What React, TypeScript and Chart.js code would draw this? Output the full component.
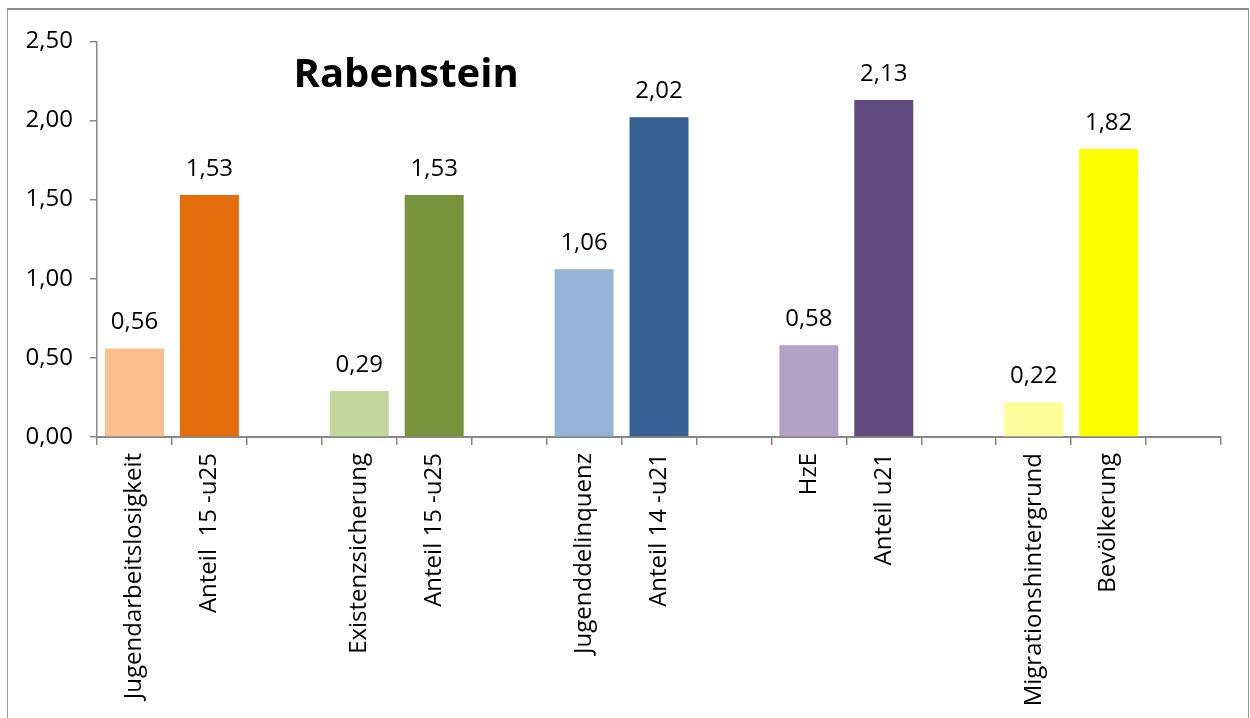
import React, { useEffect, useRef } from "react";
import { Chart, registerables } from "chart.js";

Chart.register(...registerables);

const TITLE = "Rabenstein";
const categories: string[] = [
  "Jugendarbeitslosigkeit",
  "Anteil  15 -u25",
  "",
  "Existenzsicherung",
  "Anteil 15 -u25",
  "",
  "Jugenddelinquenz",
  "Anteil 14 -u21",
  "",
  "HzE",
  "Anteil u21",
  "",
  "Migrationshintergrund",
  "Bevölkerung",
  "",
];
const values: (number | null)[] = [
  0.56, 1.53, null, 0.29, 1.53, null, 1.06, 2.02, null, 0.58, 2.13, null, 0.22, 1.82, null,
];
const barColors: string[] = [
  "#FAC090", "#E46C0A", "#FFFFFF",
  "#C3D69B", "#77933C", "#FFFFFF",
  "#95B3D7", "#376092", "#FFFFFF",
  "#B3A2C7", "#604A7B", "#FFFFFF",
  "#FDFD99", "#FFFF00", "#FFFFFF",
];
const yTicks: number[] = [0, 0.5, 1, 1.5, 2, 2.5];

const FONT = "'Open Sans', 'Noto Sans', sans-serif";
const fmt = (v: number) => v.toFixed(2).replace(".", ",");

const overlayPlugin = {
  id: "overlay",
  afterDatasetsDraw(chart: any) {
    const { ctx, chartArea } = chart;
    const meta = chart.getDatasetMeta(0);
    ctx.save();
    ctx.fillStyle = "#000";
    ctx.font = `24px ${FONT}`;
    ctx.textAlign = "center";
    ctx.textBaseline = "alphabetic";
    meta.data.forEach((bar: any, i: number) => {
      const v = values[i];
      if (v === null || v === undefined) return;
      ctx.fillText(fmt(v), bar.x, bar.y - 19);
    });
    ctx.font = `bold 40px ${FONT}`;
    ctx.fillText(
      TITLE,
      chartArea.left + 0.275 * (chartArea.right - chartArea.left),
      chartArea.top + 46
    );
    ctx.restore();
  },
};

export default function App() {
  const canvasRef = useRef<HTMLCanvasElement | null>(null);

  useEffect(() => {
    if (!canvasRef.current) return;
    const chart = new Chart(canvasRef.current, {
      type: "bar",
      data: {
        labels: categories,
        datasets: [
          {
            data: values as any,
            backgroundColor: barColors,
            borderWidth: 0,
            categoryPercentage: 1,
            barPercentage: 0.787,
          },
        ],
      },
      options: {
        animation: false,
        responsive: false,
        maintainAspectRatio: false,
        layout: { padding: { top: 27, right: 27, left: 0, bottom: 0 } },
        plugins: {
          legend: { display: false },
          tooltip: { enabled: false },
          title: { display: false },
        },
        scales: {
          x: {
            offset: true,
            afterFit: (scale: any) => {
              scale.height = 283;
            },
            grid: {
              display: true,
              drawOnChartArea: false,
              drawTicks: true,
              tickLength: 8,
              offset: true,
              color: "#888888",
              lineWidth: 1.5,
            },
            border: { display: true, color: "#888888", width: 2 },
            ticks: {
              autoSkip: false,
              maxRotation: 90,
              minRotation: 90,
              padding: 8,
              color: "#000",
              font: { family: FONT, size: 24 },
            },
          },
          y: {
            min: 0,
            max: 2.5,
            afterFit: (scale: any) => {
              scale.width = 89;
            },
            afterBuildTicks: (scale: any) => {
              scale.ticks = yTicks.map((v) => ({ value: v }));
            },
            grid: {
              display: true,
              drawOnChartArea: false,
              drawTicks: true,
              tickLength: 7,
              color: "#888888",
              lineWidth: 1.5,
            },
            border: { display: true, color: "#888888", width: 1.5 },
            ticks: {
              padding: 17,
              color: "#000",
              font: { family: FONT, size: 24 },
              callback: (v: any) => fmt(Number(v)),
            },
          },
        },
      },
      plugins: [overlayPlugin],
    });
    return () => chart.destroy();
  }, []);

  return (
    <div
      style={{
        position: "fixed",
        left: 0,
        top: 0,
        width: 1250,
        height: 718,
        overflow: "hidden",
        background: "#fff",
      }}
    >
      <div
        style={{
          position: "absolute",
          left: 7,
          top: 8,
          width: 1240,
          height: 720,
          borderTop: "2px solid #8a8a8a",
          borderLeft: "1px solid #9a9a9a",
          borderRight: "1px solid #9a9a9a",
        }}
      >
        <canvas
          ref={canvasRef}
          width={1240}
          height={710}
          style={{ display: "block", width: 1240, height: 710 }}
        />
      </div>
    </div>
  );
}
